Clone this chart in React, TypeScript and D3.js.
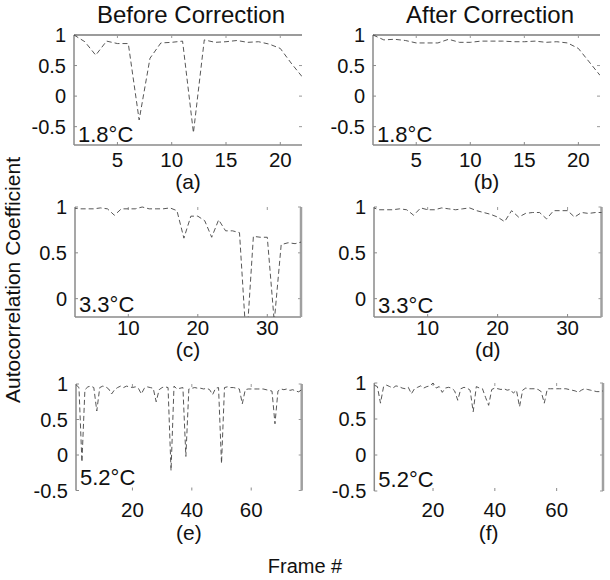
import React from "react";
import * as d3 from "d3";

// ---------------- data ----------------
const COLUMN_TITLES = ["Before Correction", "After Correction"];
const TEMPERATURES = ["1.8°C", "3.3°C", "5.2°C"];
const PANEL_LETTERS = ["(a)", "(b)", "(c)", "(d)", "(e)", "(f)"];
const Y_LABEL = "Autocorrelation Coefficient";
const X_LABEL = "Frame #";

// 1.8°C, frames 1..22
const FIRST_FRAME_18 = 1;
const BEFORE_18 = [1.0, 0.89, 0.67, 0.9, 0.86, 0.86, -0.39, 0.62, 0.87, 0.88, 0.9, -0.6, 0.92, 0.88, 0.89, 0.91, 0.88, 0.89, 0.85, 0.78, 0.54, 0.32];
const AFTER_18 = [1.0, 0.92, 0.93, 0.91, 0.87, 0.87, 0.87, 0.93, 0.88, 0.88, 0.9, 0.9, 0.9, 0.89, 0.89, 0.9, 0.88, 0.89, 0.87, 0.78, 0.56, 0.34];

// 3.3°C, frames 2..35
const FIRST_FRAME_33 = 2;
const BEFORE_33 = [0.99, 0.98, 0.98, 0.98, 0.99, 0.98, 0.91, 0.98, 0.98, 0.98, 1.0, 0.98, 0.98, 0.98, 0.99, 0.96, 0.66, 0.9, 0.9, 0.85, 0.67, 0.86, 0.74, 0.74, 0.72, -0.5, 0.68, 0.67, 0.67, -0.25, 0.59, 0.61, 0.6, 0.62];
const AFTER_33 = [1.0, 0.97, 0.97, 0.97, 0.98, 0.97, 0.91, 0.99, 0.97, 0.97, 0.99, 0.98, 0.97, 0.98, 0.99, 0.96, 0.94, 0.92, 0.89, 0.84, 0.96, 0.89, 0.93, 0.94, 0.94, 0.87, 0.96, 0.96, 0.96, 0.89, 0.94, 0.93, 0.94, 0.94];

// 5.2°C
const FIRST_FRAME_52 = 1;
const BEFORE_52 = [0.99, 0.95, -0.1, 0.92, 0.96, 0.97, 0.95, 0.62, 0.95, 0.97, 0.96, 0.93, 0.86, 0.92, 0.95, 0.97, 0.95, 0.97, 0.96, 0.95, 0.96, 0.94, 0.86, 0.94, 0.96, 0.95, 0.94, 0.75, 0.92, 0.95, 0.96, 0.95, -0.22, 0.97, 0.93, 0.94, 0.95, -0.02, 0.93, 0.94, 0.95, 0.94, 0.94, 0.93, 0.94, 0.92, 0.85, 0.94, 0.95, -0.12, 0.95, 0.96, 0.95, 0.95, 0.94, 0.93, 0.72, 0.92, 0.93, 0.93, 0.93, 0.93, 0.93, 0.93, 0.92, 0.91, 0.9, 0.44, 0.9, 0.93, 0.92, 0.93, 0.91, 0.92, 0.9, 0.89, 0.92];
const AFTER_52 = [0.97, 0.95, 0.72, 0.95, 0.97, 0.95, 0.93, 0.96, 0.95, 0.93, 0.92, 0.94, 0.85, 0.92, 0.94, 0.96, 0.93, 0.95, 0.96, 1.0, 0.93, 0.95, 0.87, 0.93, 0.94, 0.93, 0.89, 0.76, 0.92, 0.94, 0.93, 0.9, 0.6, 0.95, 0.93, 0.92, 0.8, 0.69, 0.91, 0.93, 0.92, 0.91, 0.92, 0.9, 0.91, 0.86, 0.9, 0.67, 0.9, 0.93, 0.92, 0.92, 0.92, 0.91, 0.88, 0.72, 0.92, 0.92, 0.92, 0.92, 0.92, 0.92, 0.92, 0.91, 0.9, 0.89, 0.87, 0.9, 0.92, 0.91, 0.9, 0.89, 0.88, 0.88, 0.89];

const X_TICKS_18 = [5, 10, 15, 20];
const X_TICKS_33 = [10, 20, 30];
const X_TICKS_52 = [20, 40, 60];
const Y_TICKS_18 = [1, 0.5, 0, -0.5];
const Y_TICKS_33 = [1, 0.5, 0];
const Y_TICKS_52 = [1, 0.5, 0, -0.5];

// ---------------- layout ----------------
type Panel = {
  id: string;
  values: number[];
  first: number;
  xTicks: number[];
  yTicks: number[];
  xDomain: [number, number];
  yDomain: [number, number];
  left: number; right: number; top: number; bottom: number;
  xTickBase: number;
  letterBase: number;
  tempBase: number;
  temp: string;
  letter: string;
  topLine: boolean; rightLine: boolean; bottomLine: boolean;
};

const panels: Panel[] = [
  { id: "a", values: BEFORE_18, first: FIRST_FRAME_18, xTicks: X_TICKS_18, yTicks: Y_TICKS_18, xDomain: [1, 22], yDomain: [-0.8, 1], left: 74, right: 302, top: 35, bottom: 145, xTickBase: 167, letterBase: 189, tempBase: 141.5, temp: TEMPERATURES[0], letter: PANEL_LETTERS[0], topLine: true, rightLine: false, bottomLine: true },
  { id: "b", values: AFTER_18, first: FIRST_FRAME_18, xTicks: X_TICKS_18, yTicks: Y_TICKS_18, xDomain: [1, 22], yDomain: [-0.8, 1], left: 373, right: 600, top: 35, bottom: 145, xTickBase: 167, letterBase: 189, tempBase: 141.5, temp: TEMPERATURES[0], letter: PANEL_LETTERS[1], topLine: true, rightLine: false, bottomLine: true },
  { id: "c", values: BEFORE_33, first: FIRST_FRAME_33, xTicks: X_TICKS_33, yTicks: Y_TICKS_33, xDomain: [2.33, 34.85], yDomain: [-0.2, 1], left: 75, right: 301, top: 207, bottom: 317, xTickBase: 335, letterBase: 357, tempBase: 311.5, temp: TEMPERATURES[1], letter: PANEL_LETTERS[2], topLine: false, rightLine: true, bottomLine: true },
  { id: "d", values: AFTER_33, first: FIRST_FRAME_33, xTicks: X_TICKS_33, yTicks: Y_TICKS_33, xDomain: [2.33, 34.85], yDomain: [-0.2, 1], left: 374, right: 601.5, top: 207, bottom: 317, xTickBase: 335, letterBase: 357, tempBase: 313, temp: TEMPERATURES[1], letter: PANEL_LETTERS[3], topLine: false, rightLine: true, bottomLine: true },
  { id: "e", values: BEFORE_52, first: FIRST_FRAME_52, xTicks: X_TICKS_52, yTicks: Y_TICKS_52, xDomain: [1, 77], yDomain: [-0.5, 1], left: 76, right: 301.7, top: 384, bottom: 490.5, xTickBase: 517, letterBase: 540, tempBase: 485, temp: TEMPERATURES[2], letter: PANEL_LETTERS[4], topLine: false, rightLine: true, bottomLine: false },
  { id: "f", values: AFTER_52, first: FIRST_FRAME_52, xTicks: X_TICKS_52, yTicks: Y_TICKS_52, xDomain: [1, 75], yDomain: [-0.5, 1], left: 374.3, right: 603, top: 383, bottom: 491, xTickBase: 517, letterBase: 540, tempBase: 487, temp: TEMPERATURES[2], letter: PANEL_LETTERS[5], topLine: false, rightLine: true, bottomLine: false },
];

const FONT = "'Liberation Sans', Arial, Helvetica, sans-serif";
const AXIS = "#8a8a8a";

function PanelView({ p }: { p: Panel }) {
  const x = d3.scaleLinear().domain(p.xDomain).range([p.left, p.right]);
  const y = d3.scaleLinear().domain(p.yDomain).range([p.bottom, p.top]);
  const line = d3
    .line<number>()
    .x((_, i) => x(p.first + i))
    .y((v) => y(v));
  const clipId = `clip-${p.id}`;
  const tk = 3;
  return (
    <g>
      <defs>
        <clipPath id={clipId}>
          <rect x={p.left} y={p.top - 2} width={p.right - p.left} height={p.bottom - p.top + 2} />
        </clipPath>
      </defs>
      <line x1={p.left} x2={p.left} y1={p.top} y2={p.bottom} stroke={AXIS} strokeWidth={1.5} />
      {p.topLine && <line x1={p.left} x2={p.right} y1={p.top} y2={p.top} stroke="#7a7a7a" strokeWidth={1.5} />}
      {p.bottomLine && <line x1={p.left} x2={p.right} y1={p.bottom} y2={p.bottom} stroke={AXIS} strokeWidth={1.5} />}
      {p.rightLine && <line x1={p.right} x2={p.right} y1={p.top} y2={p.bottom} stroke="#a0a0a0" strokeWidth={2.5} />}
      {p.yTicks.map((t) => (
        <g key={"yt" + t}>
          <line x1={p.left} x2={p.left + tk} y1={y(t)} y2={y(t)} stroke={AXIS} strokeWidth={1} />
          <line x1={p.right} x2={p.right - tk} y1={y(t)} y2={y(t)} stroke="#999" strokeWidth={1} />
          <text x={p.left - 8} y={y(t)} textAnchor="end" dominantBaseline="central" fontSize={20} fontFamily={FONT} fill="#111">
            {t}
          </text>
        </g>
      ))}
      {p.xTicks.map((t) => (
        <g key={"xt" + t}>
          <line x1={x(t)} x2={x(t)} y1={p.bottom} y2={p.bottom - tk} stroke={AXIS} strokeWidth={1} />
          <line x1={x(t)} x2={x(t)} y1={p.top} y2={p.top + tk} stroke="#999" strokeWidth={1} />
          <text x={x(t)} y={p.xTickBase} textAnchor="middle" fontSize={20.5} fontFamily={FONT} fill="#111">
            {t}
          </text>
        </g>
      ))}
      <path
        d={line(p.values) || ""}
        clipPath={`url(#${clipId})`}
        fill="none"
        stroke="#444"
        strokeWidth={0.9}
        strokeDasharray="5,3"
      />
      <text x={p.left + 4} y={p.tempBase} fontSize={22} fontFamily={FONT} fill="#111">
        {p.temp}
      </text>
      <text x={(p.left + p.right) / 2} y={p.letterBase} textAnchor="middle" fontSize={21} fontFamily={FONT} fill="#111">
        {p.letter}
      </text>
    </g>
  );
}

export default function App() {
  return (
    <svg width={610} height={580} style={{ display: "block", position: "absolute", left: 0, top: 0, background: "#fff" }}>
      <rect x={0} y={0} width={610} height={580} fill="#fff" />
      <text x={191} y={23} textAnchor="middle" fontSize={24} fontFamily={FONT} fill="#111">
        {COLUMN_TITLES[0]}
      </text>
      <text x={490} y={23} textAnchor="middle" fontSize={24} fontFamily={FONT} fill="#111">
        {COLUMN_TITLES[1]}
      </text>
      <text transform="translate(20,280) rotate(-90)" textAnchor="middle" fontSize={21} fontFamily={FONT} fill="#111">
        {Y_LABEL}
      </text>
      <text x={305} y={573} textAnchor="middle" fontSize={20} fontFamily={FONT} fill="#111">
        {X_LABEL}
      </text>
      {panels.map((p) => (
        <PanelView key={p.id} p={p} />
      ))}
    </svg>
  );
}
